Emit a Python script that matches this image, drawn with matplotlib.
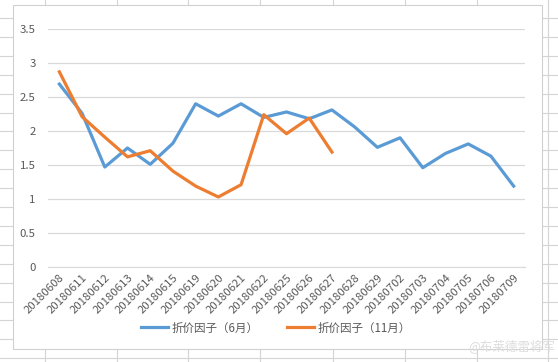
import matplotlib.pyplot as plt
from matplotlib.patches import Rectangle

plt.rcParams['font.family'] = ['Noto Sans CJK SC', 'DejaVu Sans']

dates = ["20180608", "20180611", "20180612", "20180613", "20180614", "20180615",
         "20180619", "20180620", "20180621", "20180622", "20180625", "20180626",
         "20180627", "20180628", "20180629", "20180702", "20180703", "20180704",
         "20180705", "20180706", "20180709"]
jun = [2.69, 2.26, 1.47, 1.75, 1.51, 1.82, 2.40, 2.22, 2.40, 2.20, 2.28, 2.18,
       2.31, 2.06, 1.76, 1.90, 1.46, 1.67, 1.81, 1.63, 1.19]
nov = [2.87, 2.21, 1.91, 1.62, 1.71, 1.41, 1.19, 1.03, 1.21, 2.24, 1.96, 2.19, 1.69]
yticks = [0, 0.5, 1, 1.5, 2, 2.5, 3, 3.5]

W, H = 558, 362
fig = plt.figure(figsize=(W / 100, H / 100), dpi=100)
fig.patch.set_facecolor("white")

def fx(px):
    return px / W

def fy(py):
    return 1 - py / H

# spreadsheet cells behind the chart, drawn in pixel coords
bg = fig.add_axes([0, 0, 1, 1], zorder=0)
bg.set_xlim(0, W)
bg.set_ylim(H, 0)
bg.axis("off")
grid_c = "#d4d4d4"
for cx in [45, 117, 188, 260, 333, 405, 477, 548]:
    bg.axvline(cx, color=grid_c, lw=0.8, zorder=0)
for k in range(20):
    bg.axhline(18 + 18.9 * k, color=grid_c, lw=0.8, zorder=0)
bg.add_patch(Rectangle((13, 5), 542 - 13, 349 - 5, facecolor="white",
                       edgecolor="#d0d0d0", lw=0.8, zorder=1))
bg.text(555, 346, "@布莱德雷将军", fontsize=9, color="#dddddd", va="center", ha="right", zorder=3)

ax = fig.add_axes([fx(48), fy(267), fx(525) - fx(48), fy(29) - fy(267)], zorder=2)
ax.set_facecolor("none")
x = list(range(len(dates)))
ax.plot(x, jun, color="#5B9BD5", lw=2.3, label="折价因子（6月）", solid_joinstyle="round")
ax.plot(x[:len(nov)], nov, color="#ED7D31", lw=2.3, label="折价因子（11月）", solid_joinstyle="round")

ax.set_xlim(-0.5, len(dates) - 0.5)
ax.set_ylim(0, 3.5)
ax.set_yticks(yticks)
ax.set_yticklabels(["0", "0.5", "1", "1.5", "2", "2.5", "3", "3.5"])
ax.grid(axis="y", color="#d9d9d9", lw=0.9)
ax.set_axisbelow(True)
for s in ["top", "right", "left"]:
    ax.spines[s].set_visible(False)
ax.spines["bottom"].set_color("#d9d9d9")
ax.set_xticks(x)
ax.set_xticklabels(dates, rotation=45, ha="right", rotation_mode="anchor")
ax.tick_params(axis="both", length=0, colors="#595959", labelsize=8.2)
ax.tick_params(axis="y", pad=9)
ax.tick_params(axis="x", pad=4)

ax.legend(loc="center", bbox_to_anchor=(fx(276), fy(328)), bbox_transform=fig.transFigure,
          ncol=2, frameon=False, fontsize=8.3, handlelength=2.35, handletextpad=0.26,
          columnspacing=2.5, labelcolor="#595959")

fig.savefig("out.png", dpi=100, facecolor=fig.get_facecolor())
